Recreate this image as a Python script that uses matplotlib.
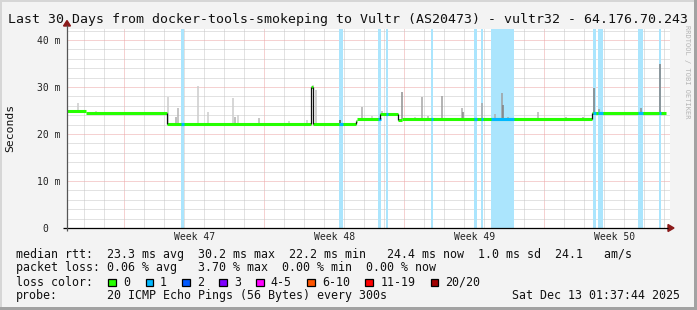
import matplotlib
matplotlib.use('Agg')
import matplotlib.pyplot as plt
import numpy as np
from matplotlib.patches import Rectangle, Polygon
from matplotlib.transforms import ScaledTranslation

# ---------------- data (time in days since start of the 30-day window) ----------------
title = "Last 30 Days from docker-tools-smokeping to Vultr (AS20473) - vultr32 - 64.176.70.243"
week_labels = ["Week 47", "Week 48", "Week 49", "Week 50"]
week_starts = [2.865, 9.865, 16.865, 23.865]          # Monday boundaries (days)
first_day_line = 0.865
ytick_vals = [0, 10, 20, 30, 40]
ytick_labels = ["0", "10 m", "20 m", "30 m", "40 m"]

# median rtt step series (ms)
med_t = [0.0, 0.95, 4.985, 12.175, 12.315, 14.425, 14.5, 15.65, 16.565, 16.725, 26.225, 29.95]
med_v = [24.8, 24.4, 22.2, 30.1, 22.2, 22.8, 23.15, 24.3, 22.9, 23.2, 24.4]

# intervals with packet loss (1 of 20 lost)
loss_start = [5.70, 13.615, 15.565, 15.935, 18.20, 20.35, 20.70, 21.20, 26.30, 26.565, 28.535, 29.60]
loss_end   = [5.835, 13.815, 15.70, 16.035, 18.30, 20.485, 20.80, 22.335, 26.45, 26.80, 28.785, 29.685]
loss_count = [1, 1, 1, 1, 1, 1, 1, 1, 1, 1, 1, 1]

# smoke (ping spread) upper values (ms) and their density
smoke_t = [0.565, 1.45, 5.065, 5.425, 5.525, 6.565, 7.065, 8.315, 8.375, 8.565, 9.615, 11.115,
           11.985, 12.45, 12.3, 13.64, 14.735, 15.235, 15.735, 16.735, 17.4, 17.735, 18.065,
           18.735, 19.735, 19.8, 20.735, 21.4, 21.735, 21.8, 22.05, 23.565, 24.935, 25.815,
           26.365, 26.615, 27.235, 28.7, 29.65]
smoke_hi = [26.6, 24.9, 27.9, 23.6, 25.5, 30.2, 24.7, 27.7, 23.7, 24.0, 23.5, 22.8,
            23.0, 29.4, 30.4, 22.9, 25.8, 23.9, 24.9, 28.9, 23.6, 27.9, 23.8,
            28.1, 25.6, 24.7, 26.5, 24.3, 28.8, 26.2, 23.6, 24.7, 23.7, 23.7,
            29.7, 25.3, 24.6, 25.6, 34.8]
smoke_den = [0.1, 0.1, 0.1, 0.3, 0.25, 0.1, 0.1, 0.1, 0.3, 0.1, 0.25, 0.1,
             0.1, 0.15, 0.1, 0.9, 0.3, 0.1, 0.25, 0.5, 0.1, 0.35, 0.25,
             0.4, 0.3, 0.55, 0.35, 0.3, 0.4, 0.6, 0.3, 0.25, 0.25, 0.3,
             0.6, 0.4, 0.25, 0.5, 0.6]

loss_names  = ["0", "1", "2", "3", "4-5", "6-10", "11-19", "20/20"]
loss_colors = ["#26ff00", "#00b8ff", "#0059ff", "#7e00ff", "#ff00ff", "#ff5500", "#ff0000", "#a10000"]

stats_line1 = "median rtt:  23.3 ms avg  30.2 ms max  22.2 ms min   24.4 ms now  1.0 ms sd  24.1   am/s"
stats_line2 = "packet loss: 0.06 % avg   3.70 % max  0.00 % min  0.00 % now"
probe_label = "probe:"
probe_text = "20 ICMP Echo Pings (56 Bytes) every 300s"
date_text = "Sat Dec 13 01:37:44 2025"

# ---------------- figure ----------------
W, H, DPI = 697, 310, 100
MONO = "DejaVu Sans Mono"
plt.rcParams['font.family'] = [MONO, 'DejaVu Sans']
fig = plt.figure(figsize=(W / DPI, H / DPI), dpi=DPI, facecolor='#f3f3f3')

def fx(px):
    return px / W

def fy(py):
    return 1 - py / H

AX_L, AX_R, AX_T, AX_B = 67, 670, 28.5, 228
ax = fig.add_axes([fx(AX_L), fy(AX_B), (AX_R - AX_L) / W, (AX_B - AX_T) / H])
ax.set_facecolor('white')
ax.set_xlim(0, (AX_R - AX_L) / 20.0)
ax.set_ylim(0, (AX_B - AX_T) / 4.7)
for s in ax.spines.values():
    s.set_visible(False)

xmax = ax.get_xlim()[1]
ymax = ax.get_ylim()[1]

# grid
dot = (0, (1, 1))
minor_x = np.arange(first_day_line, xmax, 1.0)
minor_x = [v for v in minor_x if min(abs(v - w) for w in week_starts) > 0.1]
ax.vlines(minor_x, 0, ymax, colors='#c6c6c6', linestyles=dot, lw=0.72, zorder=1)
ax.vlines(week_starts, 0, ymax, colors='#eda5a5', linestyles=dot, lw=0.72, zorder=1)
minor_y = [v for v in np.arange(2, ymax, 2) if v % 10 != 0]
ax.hlines(minor_y, 0, xmax, colors='#c6c6c6', linestyles=dot, lw=0.72, zorder=1)
ax.hlines([10, 20, 30, 40], 0, xmax, colors='#eda5a5', linestyles=dot, lw=0.72, zorder=1)

# loss background bars
for s, e, c in zip(loss_start, loss_end, loss_count):
    ax.axvspan(s, e, color='#abe5fd', lw=0, zorder=2)

med_t_arr = np.array(med_t)
med_v_arr = np.array(med_v)

def median_at(t):
    i = np.searchsorted(med_t_arr, t, side='right') - 1
    i = np.clip(i, 0, len(med_v_arr) - 1)
    return med_v_arr[i]

# smoke
sm_t = np.array(smoke_t)
sm_base = median_at(sm_t)
sm_gray = [str(0.86 - 0.6 * d) for d in smoke_den]
ax.vlines(sm_t, sm_base, smoke_hi, colors=sm_gray, lw=1.1, zorder=3)

# median line
ax.hlines(med_v, med_t[:-1], med_t[1:], colors=loss_colors[0], lw=2.2, zorder=4)
steps = [(t, a, b) for t, a, b in zip(med_t[1:-1], med_v[:-1], med_v[1:]) if abs(b - a) > 0.5]
ax.vlines([s[0] for s in steps], [s[1] for s in steps], [s[2] for s in steps],
          colors='#111111', lw=0.9, zorder=5)
for s, e, c in zip(loss_start, loss_end, loss_count):
    ax.hlines(median_at((s + e) / 2), s, e, colors=loss_colors[c], lw=2.2, zorder=4.5)

# ticks
ax.set_yticks(ytick_vals, ytick_labels)
ax.set_xticks([w + 3.5 for w in week_starts], week_labels)
ax.tick_params(axis='both', length=0, labelsize=7, colors='#222222')
ax.tick_params(axis='y', pad=5.0)
ax.tick_params(axis='x', pad=3.0)
lab0 = ax.get_yticklabels()[0]
lab0.set_transform(lab0.get_transform() + ScaledTranslation(-11.7 / DPI, 0, fig.dpi_scale_trans))

# axes lines and arrows (figure pixel coordinates)
def px_line(x0, y0, x1, y1, color, lw):
    fig.add_artist(plt.Line2D([fx(x0), fx(x1)], [fy(y0), fy(y1)], color=color, lw=lw,
                              transform=fig.transFigure, solid_capstyle='butt'))

px_line(63, AX_B, 668, AX_B, '#000000', 0.9)
px_line(AX_L, AX_B + 3, AX_L, 25, '#555555', 0.9)
fig.add_artist(Polygon([[fx(668), fy(AX_B - 3.5)], [fx(674), fy(AX_B)], [fx(668), fy(AX_B + 3.5)]],
                       closed=True, color='#8b1a1a', transform=fig.transFigure))
fig.add_artist(Polygon([[fx(AX_L - 3.5), fy(26)], [fx(AX_L), fy(20.5)], [fx(AX_L + 3.5), fy(26)]],
                       closed=True, color='#8b1a1a', transform=fig.transFigure))

# texts
fig.text(fx(347.5), fy(19.5), title, ha='center', va='center', fontsize=9.55, family=MONO, color='#111111')
fig.text(fx(10), fy(128), "Seconds", ha='center', va='center', rotation=90, fontsize=8.2, family=MONO, color='#111111')
fig.text(fx(687), fy(25), "RRDTOOL / TOBI OETIKER", ha='center', va='top', rotation=270,
         fontsize=5.0, family=MONO, color='#b4b4b4')

LX = 16
fs = 8.4
fig.text(fx(LX), fy(254.3), stats_line1, ha='left', va='center', fontsize=fs, family=MONO, color='#111111')
fig.text(fx(LX), fy(268.0), stats_line2, ha='left', va='center', fontsize=fs, family=MONO, color='#111111')
fig.text(fx(LX), fy(282.3), "loss color:", ha='left', va='center', fontsize=fs, family=MONO, color='#111111')
box_x = [108.3, 145.7, 182.3, 219.0, 256.0, 307.3, 365.0, 430.7]
lab_x = [123.3, 160.0, 197.3, 234.0, 270.7, 322.0, 380.7, 445.0]
for bx, lx, name, col in zip(box_x, lab_x, loss_names, loss_colors):
    fig.add_artist(Rectangle((fx(bx), fy(286.3)), 7.7 / W, 7.7 / H, facecolor=col, edgecolor='black',
                             lw=0.9, transform=fig.transFigure))
    fig.text(fx(lx), fy(282.3), name, ha='left', va='center', fontsize=fs, family=MONO, color='#111111')
fig.text(fx(LX), fy(295.7), probe_label, ha='left', va='center', fontsize=fs, family=MONO, color='#111111')
fig.text(fx(107.3), fy(295.7), probe_text, ha='left', va='center', fontsize=fs, family=MONO, color='#111111')
fig.text(fx(680.5), fy(295.7), date_text, ha='right', va='center', fontsize=fs, family=MONO, color='#111111')

# outer frame
fig.add_artist(Rectangle((0, 0), 2 / W, 1, facecolor='#d6d6d6', lw=0, transform=fig.transFigure))
fig.add_artist(Rectangle((0, 1 - 2 / H), 1, 2 / H, facecolor='#d6d6d6', lw=0, transform=fig.transFigure))
fig.add_artist(Rectangle((1 - 3 / W, 0), 3 / W, 1, facecolor='#a2a2a2', lw=0, transform=fig.transFigure))
fig.add_artist(Rectangle((0, 0), 1, 3 / H, facecolor='#a2a2a2', lw=0, transform=fig.transFigure))

fig.savefig('out.png', dpi=DPI, facecolor=fig.get_facecolor())
